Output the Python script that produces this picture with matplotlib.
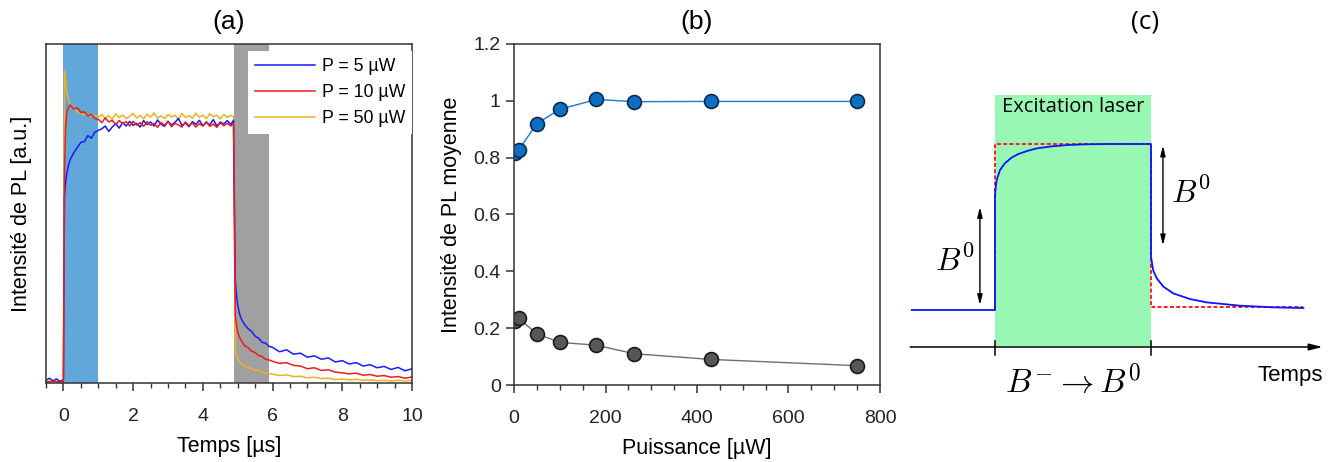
import matplotlib
matplotlib.use("Agg")
import matplotlib.pyplot as plt
from matplotlib.ticker import MultipleLocator, FormatStrFormatter

plt.rcParams['font.family'] = ['Liberation Sans', 'DejaVu Sans']
plt.rcParams['mathtext.fontset'] = 'cm'

# (a) PL transients
t_us = [-0.5, -0.4, -0.3, -0.2, -0.1, -0.01,
        0.0, 0.03, 0.06, 0.1, 0.15, 0.2, 0.3, 0.4, 0.5, 0.6, 0.7, 0.8, 0.9,
        1.0, 1.1, 1.2, 1.3, 1.4, 1.5, 1.6, 1.7, 1.8, 1.9,
        2.0, 2.1, 2.2, 2.3, 2.4, 2.5, 2.6, 2.7, 2.8, 2.9,
        3.0, 3.1, 3.2, 3.3, 3.4, 3.5, 3.6, 3.7, 3.8, 3.9,
        4.0, 4.1, 4.2, 4.3, 4.4, 4.5, 4.6, 4.7, 4.8,
        4.88, 4.93, 4.97, 5.0, 5.05, 5.1, 5.2, 5.3, 5.4, 5.5, 5.6, 5.7, 5.8, 5.9,
        6.0, 6.2, 6.4, 6.6, 6.8, 7.0, 7.2, 7.4, 7.6, 7.8, 8.0,
        8.2, 8.4, 8.6, 8.8, 9.0, 9.2, 9.4, 9.6, 9.8, 10.0]
pl_5uW = [0.008, 0.014, 0.006, 0.012, 0.005, 0.009,
          0.01, 0.55, 0.59, 0.62, 0.645, 0.66, 0.68, 0.695, 0.71, 0.712, 0.73, 0.722, 0.74,
          0.745, 0.75, 0.758, 0.742, 0.755, 0.765, 0.752, 0.768, 0.758, 0.772,
          0.76, 0.766, 0.755, 0.774, 0.762, 0.77, 0.758, 0.776, 0.763, 0.757,
          0.772, 0.761, 0.769, 0.78, 0.76, 0.767, 0.756, 0.771, 0.763, 0.775,
          0.759, 0.768, 0.762, 0.777, 0.758, 0.77, 0.764, 0.774, 0.762,
          0.775, 0.30, 0.255, 0.23, 0.205, 0.19, 0.172, 0.16, 0.152, 0.138, 0.132, 0.12, 0.118, 0.108,
          0.105, 0.092, 0.098, 0.085, 0.088, 0.076, 0.08, 0.07, 0.074, 0.062, 0.066,
          0.056, 0.06, 0.05, 0.054, 0.045, 0.049, 0.04, 0.046, 0.036, 0.042]
pl_10uW = [0.004, 0.003, 0.005, 0.004, 0.003, 0.004,
           0.01, 0.62, 0.75, 0.80, 0.815, 0.82, 0.808, 0.812, 0.798, 0.80, 0.788, 0.792, 0.78,
           0.778, 0.768, 0.782, 0.77, 0.775, 0.762, 0.774, 0.766, 0.771, 0.758,
           0.772, 0.761, 0.768, 0.757, 0.771, 0.76, 0.766, 0.754, 0.769, 0.76,
           0.772, 0.756, 0.766, 0.761, 0.755, 0.77, 0.759, 0.767, 0.755, 0.765,
           0.758, 0.771, 0.757, 0.764, 0.754, 0.768, 0.759, 0.766, 0.758,
           0.766, 0.20, 0.168, 0.15, 0.135, 0.125, 0.11, 0.104, 0.094, 0.09, 0.081, 0.078, 0.07, 0.068,
           0.064, 0.058, 0.06, 0.052, 0.05, 0.042, 0.045, 0.037, 0.039, 0.032, 0.03,
           0.027, 0.029, 0.023, 0.025, 0.02, 0.022, 0.017, 0.019, 0.014, 0.018]
pl_50uW = [0.004, 0.006, 0.003, 0.005, 0.004, 0.004,
           0.01, 0.92, 0.89, 0.855, 0.835, 0.822, 0.81, 0.80, 0.797, 0.79, 0.792, 0.786, 0.79,
           0.784, 0.792, 0.781, 0.789, 0.778, 0.794, 0.783, 0.79, 0.78, 0.787,
           0.795, 0.782, 0.789, 0.779, 0.793, 0.784, 0.797, 0.781, 0.788, 0.78,
           0.792, 0.785, 0.79, 0.778, 0.795, 0.783, 0.789, 0.781, 0.796, 0.784,
           0.79, 0.78, 0.794, 0.786, 0.79, 0.779, 0.792, 0.784, 0.789,
           0.786, 0.10, 0.08, 0.07, 0.063, 0.058, 0.05, 0.046, 0.042, 0.038, 0.036, 0.032, 0.03, 0.028,
           0.026, 0.022, 0.024, 0.019, 0.02, 0.015, 0.017, 0.013, 0.014, 0.01, 0.012,
           0.009, 0.011, 0.008, 0.009, 0.007, 0.008, 0.006, 0.008, 0.006, 0.008]
trace_labels = ['P = 5 µW', 'P = 10 µW', 'P = 50 µW']

# (b) mean PL vs power
puissance = [3, 10, 50, 100, 180, 263, 430, 750]
pl_on = [0.818, 0.827, 0.92, 0.97, 1.005, 0.997, 0.998, 0.998]
pl_off = [0.225, 0.235, 0.18, 0.15, 0.14, 0.11, 0.09, 0.068]

# (c) schematic (laser on from t=0 to t=3)
sch_t = [-1.6, 0, 0, 0.01, 0.033, 0.096, 0.19, 0.32, 0.45, 0.64, 0.81, 1.09, 1.41, 1.73, 2.2, 3.0,
         3.0, 3.04, 3.11, 3.24, 3.43, 3.75, 4.07, 4.71, 5.35, 5.93]
sch_blue = [0, 0, 0.68, 0.73, 0.783, 0.843, 0.884, 0.918, 0.94, 0.96, 0.974, 0.986, 0.994, 0.998, 1.0, 1.0,
            0.321, 0.241, 0.191, 0.14, 0.1, 0.066, 0.046, 0.026, 0.016, 0.012]
sch_red_t = [0, 0, 3, 3, 5.93]
sch_red = [0, 1, 1, 0.016, 0.016]

fig = plt.figure(figsize=(13.44, 4.62), dpi=100)

spine_c = '#333333'

# ---- (a)
ax1 = fig.add_axes([46/1344, 79/462, 366/1344, 339/462])
ax1.axvspan(0, 1, color='#62a7d9', lw=0, zorder=0)
ax1.axvspan(4.9, 5.9, color='#a0a0a0', lw=0, zorder=0)
l3, = ax1.plot(t_us, pl_50uW, color='#edb120', lw=1.1)
l1, = ax1.plot(t_us, pl_5uW, color='#1a1aff', lw=1.1)
l2, = ax1.plot(t_us, pl_10uW, color='#ee1c1c', lw=1.1)
ax1.set_xlim(-0.5, 10)
ax1.set_ylim(0, 1)
ax1.set_yticks([])
ax1.xaxis.set_major_locator(MultipleLocator(2))
ax1.xaxis.set_minor_locator(MultipleLocator(0.5))
ax1.set_xlabel('Temps [µs]', fontsize=15.5, labelpad=8)
ax1.set_ylabel('Intensité de PL [a.u.]', fontsize=15.5, labelpad=10)
leg = ax1.legend([l1, l2, l3], trace_labels, loc='upper right', bbox_to_anchor=(1, 1 - 7/339),
                 borderaxespad=0, fontsize=12.8, fancybox=False, framealpha=1, edgecolor='none',
                 handlelength=3.4, handletextpad=0.35, labelspacing=0.5, borderpad=0.4)
leg.set_zorder(5)

# ---- (b)
ax2 = fig.add_axes([514/1344, 77/462, 366/1344, 341/462])
ax2.plot(puissance, pl_on, '-o', color='#1a7ad0', lw=1, ms=10, mfc='#0a70c4', mec='#0d2a4a', mew=1.2)
ax2.plot(puissance, pl_off, '-o', color='#6e6e6e', lw=1, ms=10, mfc='#575757', mec='#1a1a1a', mew=1.2)
ax2.set_xlim(0, 800)
ax2.set_ylim(0, 1.2)
ax2.xaxis.set_major_locator(MultipleLocator(200))
ax2.xaxis.set_minor_locator(MultipleLocator(50))
ax2.yaxis.set_major_locator(MultipleLocator(0.2))
ax2.yaxis.set_major_formatter(FormatStrFormatter('%g'))
ax2.set_xlabel('Puissance [µW]', fontsize=15.5, labelpad=8)
ax2.set_ylabel('Intensité de PL moyenne', fontsize=15.5, labelpad=8)

for ax in (ax1, ax2):
    for s in ax.spines.values():
        s.set_color(spine_c)
        s.set_linewidth(1.1)
    ax.tick_params(which='major', direction='out', length=6, width=1.1, color=spine_c,
                   labelsize=14, labelcolor='#222222', top=False, right=False)
    ax.tick_params(axis='x', which='major', pad=12)
    ax.tick_params(which='minor', direction='out', length=3.5, width=1, color=spine_c,
                   top=False, right=False)

fig.text(229/1344, 1 - 22/462, '(a)', ha='center', va='center', fontsize=19)
fig.text(697/1344, 1 - 22/462, '(b)', ha='center', va='center', fontsize=19)
fig.text(1145/1344, 1 - 22/462, '(c)', ha='center', va='center', fontsize=19, family='Open Sans')

# ---- (c)
ax3 = fig.add_axes([900/1344, 0, 444/1344, 400/462])
ax3.set_xlim(-95/52, 349/52)
ax3.set_ylim(-152/166, 248/166)
ax3.axis('off')
ax3.axvspan(0, 3, ymin=(462 - 346) / 400, ymax=(462 - 95) / 400, color='#99f7b4', lw=0, zorder=0)
ax3.text(1.5, (310 - 107) / 166, 'Excitation laser', ha='center', va='center', fontsize=14.5,
         family='Open Sans')
ax3.plot(sch_red_t, sch_red, color='#ff1a1a', lw=1.4, ls=(0, (2, 1.2)), zorder=2)
ax3.plot(sch_t, sch_blue, color='#0a14ff', lw=1.3, zorder=3)

y_axis = (310 - 347) / 166
ax3.annotate('', xy=(6.3, y_axis), xytext=(-1.63, y_axis),
             arrowprops=dict(arrowstyle='-|>,head_length=0.8,head_width=0.2', color='black', lw=1.1,
                             shrinkA=0, shrinkB=0))
for tt in (0, 3):
    ax3.plot([tt, tt], [(310 - 341) / 166, (310 - 355) / 166], color='black', lw=1.1)

ax3.annotate('', xy=(-0.29, 0.62), xytext=(-0.29, 0.03),
             arrowprops=dict(arrowstyle='<|-|>,head_length=0.6,head_width=0.15', color='black', lw=1,
                             shrinkA=0, shrinkB=0))
ax3.annotate('', xy=(3.23, 0.99), xytext=(3.23, 0.39),
             arrowprops=dict(arrowstyle='<|-|>,head_length=0.6,head_width=0.15', color='black', lw=1,
                             shrinkA=0, shrinkB=0))
ax3.text(-0.77, 0.29, r'$B^0$', ha='center', va='center', fontsize=23)
ax3.text(3.78, 0.70, r'$B^0$', ha='center', va='center', fontsize=23)
ax3.text(1.5, (310 - 382) / 166, r'$B^{-}\rightarrow B^{0}$', ha='center', va='center', fontsize=24)
ax3.text(5.68, (310 - 375) / 166, 'Temps', ha='center', va='center', fontsize=16)

fig.savefig('out.png', dpi=100)
